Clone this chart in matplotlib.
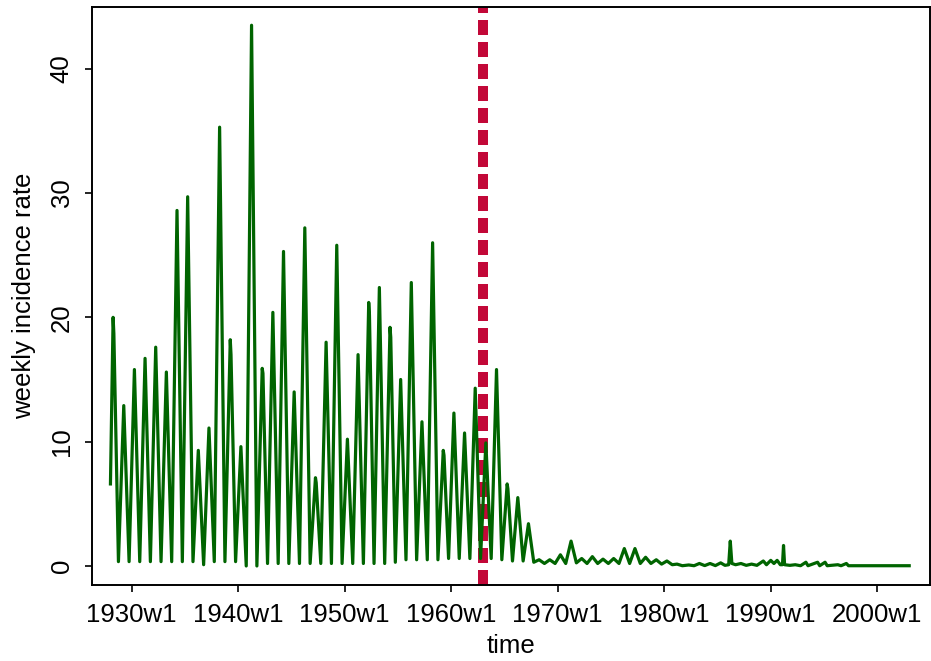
import matplotlib
matplotlib.use("Agg")
import matplotlib.pyplot as plt
import numpy as np

plt.rcParams['font.family'] = ['Liberation Sans', 'DejaVu Sans']

# seasonal epidemics (peak value and the trough after it)
season = list(range(1928, 1981))
peak = [20.0, 12.9, 15.8, 16.7, 17.6, 15.6, 28.6, 29.7, 9.3, 11.1,
        35.3, 18.2, 9.6, 43.5, 15.9, 20.4, 25.3, 14.0, 27.2, 7.1,
        18.0, 25.8, 10.2, 17.0, 21.2, 22.4, 19.2, 15.0, 22.8, 11.6,
        26.0, 9.3, 12.3, 10.7, 14.3, 9.9, 15.8, 6.6, 5.5, 3.4,
        0.5, 0.5, 0.9, 2.0, 0.6, 0.75, 0.55, 0.6, 1.4, 1.4,
        0.7, 0.5, 0.4]
# second value just after the peak (0 = none visible)
shoulder = [18.7, 0, 0, 0, 0, 0, 0, 0, 0, 0,
            0, 17.0, 0, 0, 15.5, 0, 0, 0, 0, 6.7,
            0, 0, 0, 0, 20.2, 0, 18.4, 0, 0, 0,
            0, 8.9, 0, 0, 0, 0, 0, 6.2, 0, 0,
            0, 0, 0, 0, 0, 0, 0, 0, 0, 0,
            0, 0, 0]
trough = [0.35, 0.35, 0.35, 0.35, 0.35, 0.35, 0.35, 0.35, 0.1, 0.35,
          0.35, 0.35, 0.0, 0.0, 0.2, 0.2, 0.2, 0.2, 0.2, 0.2,
          0.2, 0.2, 0.2, 0.2, 0.2, 0.2, 0.3, 0.5, 0.5, 0.5,
          0.5, 0.6, 0.6, 0.6, 0.6, 0.6, 0.5, 0.4, 0.4, 0.3,
          0.2, 0.2, 0.2, 0.25, 0.2, 0.2, 0.2, 0.2, 0.2, 0.2,
          0.2, 0.15, 0.1]

# after 1981 the series is mostly flat with a few sporadic outbreaks
late_t = [1981.2, 1981.7, 1982.3, 1982.8, 1983.3, 1983.8, 1984.3, 1984.8,
          1985.3, 1985.7, 1986.05, 1986.2, 1986.35, 1986.7, 1987.2, 1987.7,
          1988.2, 1988.7, 1989.3, 1989.6, 1990.0, 1990.3, 1990.6, 1990.9,
          1991.1, 1991.2, 1991.3, 1991.8, 1992.3, 1992.8, 1993.3, 1993.5,
          1994.4, 1994.6, 1995.1, 1995.3, 1996.3, 1996.6, 1997.1, 1997.3,
          2003.0]
late_v = [0.15, 0.02, 0.08, 0.02, 0.2, 0.03, 0.2, 0.03,
          0.25, 0.05, 0.1, 2.0, 0.2, 0.1, 0.2, 0.05,
          0.15, 0.05, 0.4, 0.1, 0.45, 0.2, 0.45, 0.1,
          0.1, 1.65, 0.1, 0.05, 0.1, 0.02, 0.3, 0.02,
          0.3, 0.02, 0.3, 0.02, 0.1, 0.02, 0.2, 0.02,
          0.02]

start_t, start_v = 1928.0, 6.6
vaccine_year = 1963.0
tick_years = [1930, 1940, 1950, 1960, 1970, 1980, 1990, 2000]

t = [start_t]
v = [start_v]
for yr, p, s, tr in zip(season, peak, shoulder, trough):
    t.append(yr + 0.25)
    v.append(p)
    if s:
        t.append(yr + 0.32)
        v.append(s)
    t.append(yr + 0.75)
    v.append(tr)
t += late_t
v += late_v

fig = plt.figure(figsize=(9.31, 6.61), dpi=100)
ax = fig.add_axes([0.0985, 0.115, 0.9005, 0.875])

ax.axvline(vaccine_year, color='#C20838', lw=7.2, dashes=(1.5, 0.7),
           dash_capstyle='butt', zorder=1)
ax.plot(t, v, color='#006400', lw=2.3, zorder=2)

ax.set_xlim(1926.24, 2004.96)
ax.set_ylim(-1.53, 45.0)
ax.set_xticks(tick_years)
ax.set_xticklabels([f"{y}w1" for y in tick_years])
ax.set_yticks([0, 10, 20, 30, 40])
ax.set_yticklabels(["0", "10", "20", "30", "40"], rotation=90, va='center')
ax.tick_params(axis='both', direction='out', length=5, width=1.2,
               labelsize=18.5, pad=8)
for sp in ax.spines.values():
    sp.set_linewidth(1.4)

ax.set_xlabel("time", fontsize=18.5, labelpad=5)
ax.set_ylabel("weekly incidence rate", fontsize=18.5, labelpad=10)

fig.savefig("out.png", dpi=100)
